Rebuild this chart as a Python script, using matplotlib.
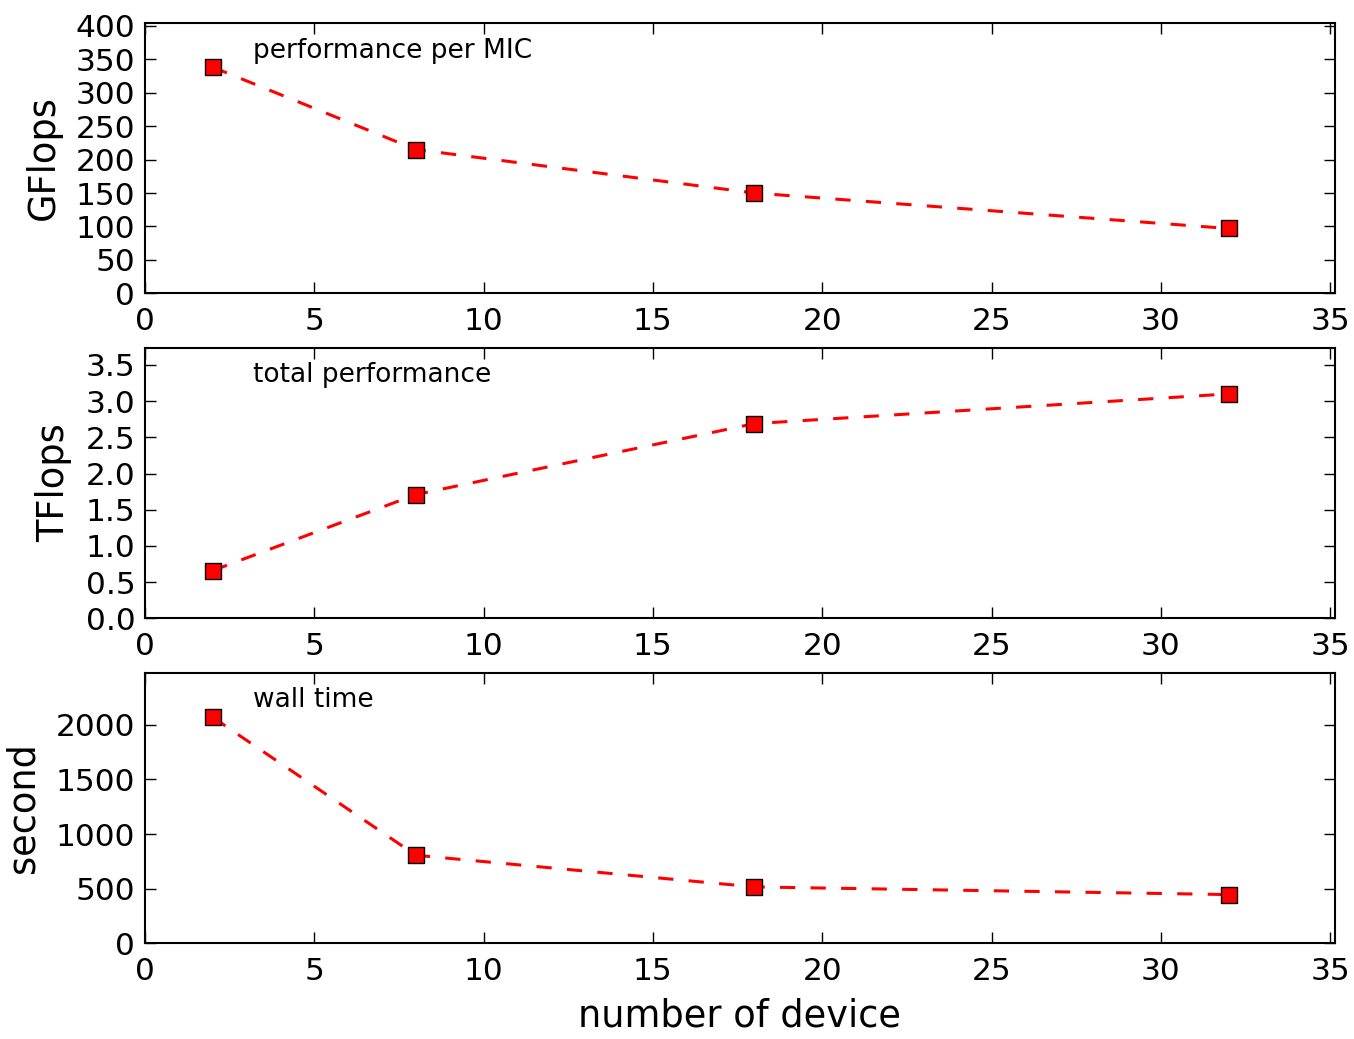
import matplotlib
matplotlib.use("Agg")
import matplotlib.pyplot as plt

devices = [2, 8, 18, 32]
gflops_per_mic = [338, 215, 150, 97]
total_tflops = [0.66, 1.71, 2.69, 3.10]
wall_time = [2068, 806, 516, 446]

panels = [
    (gflops_per_mic, "GFlops", "performance per MIC", (0, 404.5), list(range(0, 401, 50)), "%d"),
    (total_tflops, "TFlops", "total performance", (0, 3.74), [i * 0.5 for i in range(8)], "%.1f"),
    (wall_time, "second", "wall time", (0, 2478), list(range(0, 2001, 500)), "%d"),
]

plt.rcParams['lines.scale_dashes'] = False
fig, axes = plt.subplots(3, 1, figsize=(13.54, 10.39), dpi=100)
fig.subplots_adjust(left=0.1071, right=0.9856, top=0.9782, bottom=0.0921, hspace=0.2)

for ax, (vals, ylab, note, ylim, yt, fmt) in zip(axes, panels):
    ax.plot(devices, vals, color='red', linestyle='--', dashes=(11, 11), linewidth=2.2,
            marker='s', markersize=12, markerfacecolor='red', markeredgecolor='black',
            markeredgewidth=1)
    ax.set_xlim(0, 35.13)
    ax.set_ylim(*ylim)
    ax.set_xticks(range(0, 36, 5))
    ax.set_yticks(yt)
    ax.set_yticklabels([fmt % v for v in yt])
    ax.set_ylabel(ylab, fontsize=26.5, labelpad=10)
    ax.tick_params(direction='in', top=True, right=True, length=8, width=1,
                   labelsize=22.5)
    ax.tick_params(axis='y', pad=7)
    ax.tick_params(axis='x', pad=10)
    for s in ax.spines.values():
        s.set_linewidth(1.5)
    ax.text(0.091, 0.945, note, transform=ax.transAxes, fontsize=19, va='top')

axes[-1].set_xlabel("number of device", fontsize=26.5, labelpad=8)

fig.savefig("out.png", dpi=100)
